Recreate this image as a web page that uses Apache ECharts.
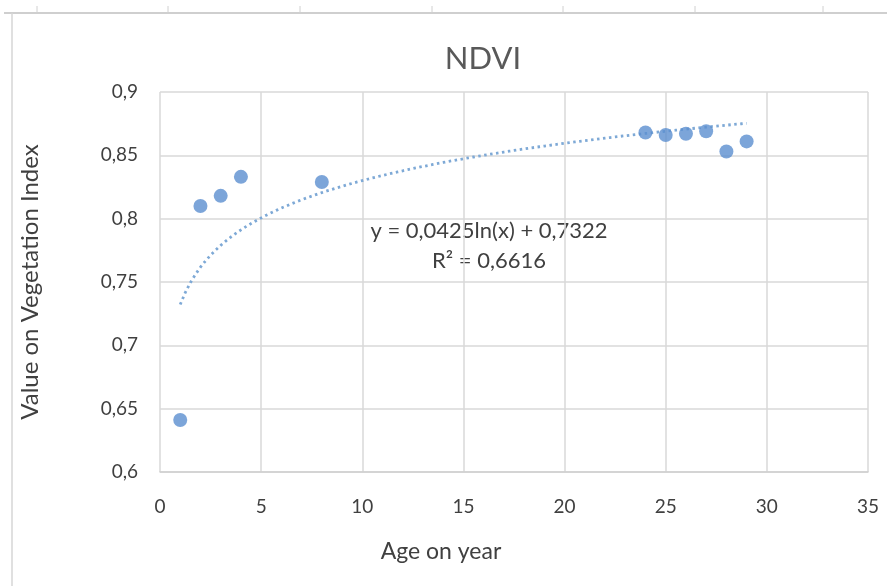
<!DOCTYPE html>
<html>
<head>
<meta charset="utf-8">
<script src="https://cdn.jsdelivr.net/npm/echarts@6/dist/echarts.min.js"></script>
<style>
  html, body { margin: 0; padding: 0; background: #ffffff; }
  #chart { width: 887px; height: 586px; }
</style>
</head>
<body>
<div id="chart"></div>
<script>
// Data
const ages = [1, 2, 3, 4, 8, 24, 25, 26, 27, 28, 29];
const ndvi = [0.641, 0.810, 0.818, 0.833, 0.829, 0.868, 0.866, 0.867, 0.869, 0.853, 0.861];
// Logarithmic trendline coefficients as printed on the chart: y = a ln(x) + b
const trendCoef = [0.0425, 0.7322];
const trendLabel = ['y = 0,0425ln(x) + 0,7322', 'R² = 0,6616'];
const xTicks = [0, 5, 10, 15, 20, 25, 30, 35];
const yTicks = [0.6, 0.65, 0.7, 0.75, 0.8, 0.85, 0.9];
const titleText = 'NDVI';
const xName = 'Age on year';
const yName = 'Value on Vegetation Index';

const FONT = 'Lato, "Open Sans", sans-serif';
const TXT = '#595959';

const scatterData = ages.map((a, i) => [a, ndvi[i]]);
// trendline evaluated across the data's x range (Excel draws it from min x to max x)
const trendData = [];
const xMin = ages[0], xMax = ages[ages.length - 1];
for (let k = 0; k <= 112; k++) {
  const x = xMin + (xMax - xMin) * k / 112;
  trendData.push([x, trendCoef[0] * Math.log(x) + trendCoef[1]]);
}

const fmt = v => String(+v.toFixed(2)).replace('.', ',');

// decorative spreadsheet lines seen behind the chart
const sheetGraphics = [
  { type: 'line', shape: { x1: 4, y1: 13, x2: 887, y2: 13 }, style: { stroke: '#cfcfcf', lineWidth: 2 }, silent: true },
  { type: 'line', shape: { x1: 12, y1: 13, x2: 12, y2: 586 }, style: { stroke: '#d6d6d6', lineWidth: 1.5 }, silent: true }
];
[37, 168, 300, 432, 563, 695, 823].forEach(x => {
  sheetGraphics.push({ type: 'line', shape: { x1: x, y1: 6, x2: x, y2: 13 }, style: { stroke: '#d0d0d0', lineWidth: 1 }, silent: true });
});

const chart = echarts.init(document.getElementById('chart'), null, { renderer: 'canvas' });
chart.setOption({
  backgroundColor: '#ffffff',
  animation: false,
  title: {
    text: titleText,
    left: 478, top: 38, textAlign: 'center',
    textStyle: { fontFamily: FONT, fontSize: 31, fontWeight: 'normal', color: TXT }
  },
  grid: { left: 160, right: 19, top: 92, bottom: 114 },
  xAxis: {
    type: 'value', min: xTicks[0], max: xTicks[xTicks.length - 1], interval: 5,
    name: xName, nameLocation: 'middle', nameGap: 68,
    nameTextStyle: { fontFamily: FONT, fontSize: 23, color: '#404040', padding: [0, 146, 0, 0] },
    axisLine: { show: true, lineStyle: { color: '#d0d0d0', width: 1.5 } },
    axisTick: { show: false },
    axisLabel: { fontFamily: FONT, fontSize: 19, color: '#404040', margin: 25, formatter: fmt },
    splitLine: { show: true, lineStyle: { color: '#d9d9d9', width: 1.5 } }
  },
  yAxis: {
    type: 'value', min: yTicks[0], max: yTicks[yTicks.length - 1], interval: 0.05,
    name: yName, nameLocation: 'middle', nameGap: 118, nameRotate: 90,
    nameTextStyle: { fontFamily: FONT, fontSize: 24, color: '#404040' },
    axisLine: { show: false },
    axisTick: { show: false },
    axisLabel: { fontFamily: FONT, fontSize: 19, color: '#404040', margin: 22, formatter: fmt },
    splitLine: { show: true, lineStyle: { color: '#d9d9d9', width: 1.5 } }
  },
  graphic: sheetGraphics.concat([
    {
      type: 'text', x: 489, y: 216, silent: true,
      style: {
        text: trendLabel.join('\n'), align: 'center', textAlign: 'center',
        font: '22px ' + FONT, fill: '#404040', lineHeight: 30
      }
    }
  ]),
  series: [
    {
      type: 'line', data: trendData, showSymbol: false, smooth: false,
      lineStyle: { color: '#7ea9d6', width: 2.8, type: [2.5, 3.5] },
      z: 2, silent: true
    },
    {
      type: 'scatter', data: scatterData, symbol: 'circle', symbolSize: 14,
      itemStyle: { color: '#5b8fcf' }, z: 3
    }
  ]
});
</script>
</body>
</html>
